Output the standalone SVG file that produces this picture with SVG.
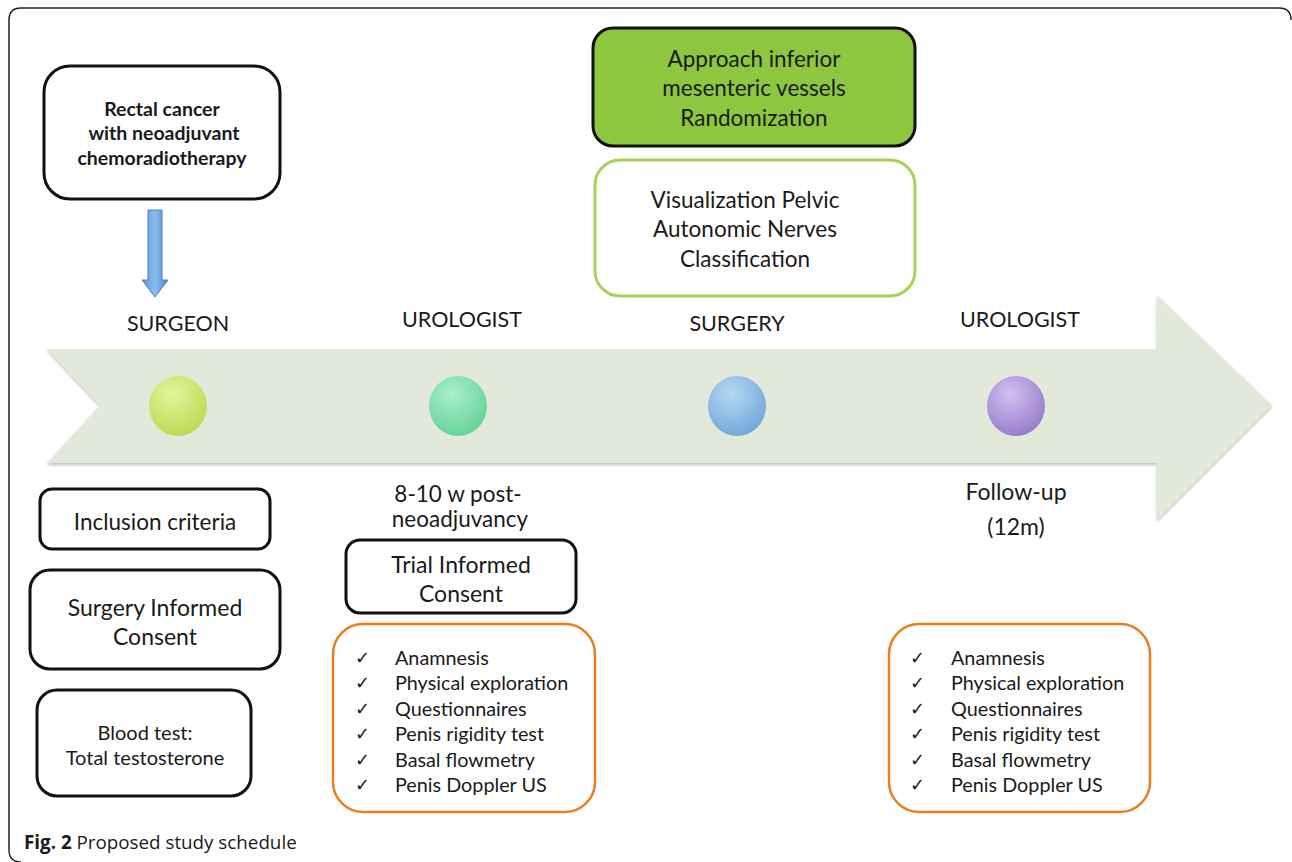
<svg xmlns="http://www.w3.org/2000/svg" width="1292" height="862" viewBox="0 0 1292 862">
<defs>
<style>
.t{font-family:Lato,"Open Sans","Liberation Sans",sans-serif;fill:#1a1a1a;text-anchor:middle}
.b{font-weight:bold}
.box{fill:#fff;stroke:#111;stroke-width:3}
.obox{fill:#fff;stroke:#e8801e;stroke-width:2.5}
.li{font-family:Lato,"Open Sans","Liberation Sans",sans-serif;fill:#1a1a1a;font-size:19.8px}
.ck{font-family:"DejaVu Sans",sans-serif;fill:#1a1a1a;font-size:18px}
</style>
<linearGradient id="blueArrow" x1="0" y1="0" x2="1" y2="0">
<stop offset="0" stop-color="#5b95d8"/>
<stop offset="0.5" stop-color="#8cbcf0"/>
<stop offset="1" stop-color="#4f88cf"/>
</linearGradient>
<radialGradient id="g1" cx="0.4" cy="0.3" r="0.8"><stop offset="0" stop-color="#e2f59a"/><stop offset="1" stop-color="#b9d64e"/></radialGradient>
<radialGradient id="g2" cx="0.4" cy="0.3" r="0.8"><stop offset="0" stop-color="#a8efc8"/><stop offset="1" stop-color="#5fcf94"/></radialGradient>
<radialGradient id="g3" cx="0.4" cy="0.3" r="0.8"><stop offset="0" stop-color="#b4d8f4"/><stop offset="1" stop-color="#6aa3d6"/></radialGradient>
<radialGradient id="g4" cx="0.4" cy="0.3" r="0.8"><stop offset="0" stop-color="#d3c0f0"/><stop offset="1" stop-color="#9174c8"/></radialGradient>
<filter id="sh" x="-10%" y="-10%" width="120%" height="130%"><feDropShadow dx="0" dy="2" stdDeviation="1.5" flood-color="#000" flood-opacity="0.25"/></filter>
</defs>
<rect width="1292" height="862" fill="#fff"/>
<path d="M1291 20 Q1291 8 1279 8 H21 Q9 8 9 20 V850 Q9 862 21 862" fill="none" stroke="#222" stroke-width="1.5"/>

<g id="timeline">
<polygon points="47,349 1157,349 1157,295 1272,405 1157,520 1157,463 47,463 100,405" fill="#e2e8da" filter="url(#sh)"/>
</g>

<g id="connectors">
<path d="M148 210 H162 V280 H168 L155 297 L142 280 H148 Z" fill="url(#blueArrow)" stroke="#4a7fc0" stroke-width="1"/>
</g>

<g id="node-rectal">
<rect class="box" x="44" y="66" width="236" height="133" rx="26"/>
<text class="t b" font-size="19.5" x="162" y="116">Rectal cancer</text>
<text class="t b" font-size="19.5" x="164" y="140">with neoadjuvant</text>
<text class="t b" font-size="19.5" x="162" y="165">chemoradiotherapy</text>
</g>

<g id="node-approach">
<rect x="593" y="28" width="322" height="118" rx="20" fill="#8dc63f" stroke="#111" stroke-width="3"/>
<text class="t" font-size="22.5" x="754" y="67" fill="#1b2b0d">Approach inferior</text>
<text class="t" font-size="22.5" x="754" y="96" fill="#1b2b0d">mesenteric vessels</text>
<text class="t" font-size="22.5" x="754" y="126" fill="#1b2b0d">Randomization</text>
</g>

<g id="node-visualization">
<rect x="595" y="160" width="320" height="136" rx="25" fill="#fff" stroke="#a8d05a" stroke-width="3"/>
<text class="t" font-size="22.5" x="745" y="208">Visualization Pelvic</text>
<text class="t" font-size="22.5" x="745" y="237">Autonomic Nerves</text>
<text class="t" font-size="22.5" x="745" y="267">Classification</text>
</g>

<g id="labels">
<text class="t" font-size="21.5" x="178" y="331">SURGEON</text>
<text class="t" font-size="21.5" x="462" y="327">UROLOGIST</text>
<text class="t" font-size="21.5" x="737" y="331">SURGERY</text>
<text class="t" font-size="21.5" x="1020" y="327">UROLOGIST</text>
</g>

<g id="stages">
<ellipse cx="178" cy="406" rx="29" ry="30" fill="url(#g1)"/>
<ellipse cx="458" cy="406" rx="29" ry="30" fill="url(#g2)"/>
<ellipse cx="737" cy="406" rx="29" ry="30" fill="url(#g3)"/>
<ellipse cx="1016" cy="406" rx="29" ry="30" fill="url(#g4)"/>
</g>

<g id="node-inclusion">
<rect class="box" x="40" y="489" width="230" height="60" rx="12" stroke-width="2.5"/>
<text class="t" font-size="22.5" x="155" y="530">Inclusion criteria</text>
</g>

<g id="node-surgery-consent">
<rect class="box" x="30" y="570" width="250" height="99" rx="20" stroke-width="2.5"/>
<text class="t" font-size="23" x="155" y="616">Surgery Informed</text>
<text class="t" font-size="23" x="155" y="645">Consent</text>
</g>

<g id="node-blood">
<rect class="box" x="37" y="690" width="214" height="106" rx="20" stroke-width="2.5"/>
<text class="t" font-size="20" x="145" y="740">Blood test:</text>
<text class="t" font-size="20" x="145" y="765">Total testosterone</text>
</g>

<g id="node-timing">
<text class="t" font-size="22.5" x="458" y="502">8-10 w post-</text>
<text class="t" font-size="22.5" x="460" y="527">neoadjuvancy</text>
</g>

<g id="node-trial-consent">
<rect class="box" x="346" y="540" width="230" height="73" rx="14" stroke-width="2.5"/>
<text class="t" font-size="23" x="461" y="573">Trial Informed</text>
<text class="t" font-size="23" x="461" y="602">Consent</text>
</g>

<g id="node-checks-1">
<rect class="obox" x="333" y="624" width="262" height="188" rx="30"/>
<g class="ck"><text x="355" y="664">✓</text><text x="355" y="689">✓</text><text x="355" y="715">✓</text><text x="355" y="740">✓</text><text x="355" y="766">✓</text><text x="355" y="791">✓</text></g>
<g class="li"><text x="395" y="665">Anamnesis</text><text x="395" y="690">Physical exploration</text><text x="395" y="716">Questionnaires</text><text x="395" y="741">Penis rigidity test</text><text x="395" y="767">Basal flowmetry</text><text x="395" y="792">Penis Doppler US</text></g>
</g>

<g id="node-followup">
<text class="t" font-size="23" x="1016" y="500">Follow-up</text>
<text class="t" font-size="23" x="1016" y="535">(12m)</text>
</g>

<g id="node-checks-2">
<rect class="obox" x="889" y="624" width="261" height="188" rx="30"/>
<g class="ck"><text x="910" y="664">✓</text><text x="910" y="689">✓</text><text x="910" y="715">✓</text><text x="910" y="740">✓</text><text x="910" y="766">✓</text><text x="910" y="791">✓</text></g>
<g class="li"><text x="951" y="665">Anamnesis</text><text x="951" y="690">Physical exploration</text><text x="951" y="716">Questionnaires</text><text x="951" y="741">Penis rigidity test</text><text x="951" y="767">Basal flowmetry</text><text x="951" y="792">Penis Doppler US</text></g>
</g>

<g id="caption">
<text x="24" y="849" font-family="'Open Sans','Liberation Sans',sans-serif" font-size="18.8" fill="#1a1a1a"><tspan font-weight="bold">Fig. 2</tspan> Proposed study schedule</text>
</g>
</svg>
